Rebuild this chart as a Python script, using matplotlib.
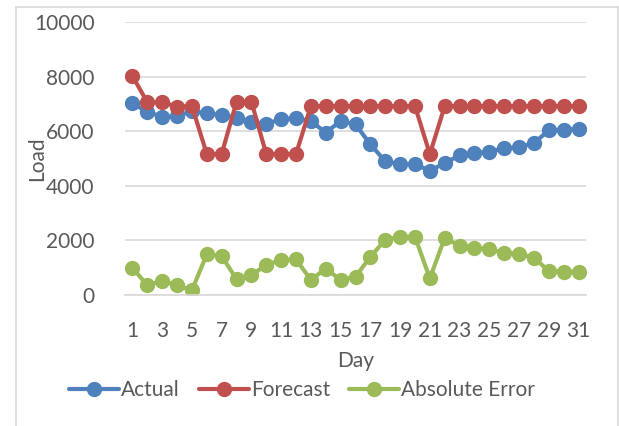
import matplotlib.pyplot as plt
from matplotlib.lines import Line2D

plt.rcParams['font.family'] = ['Lato', 'DejaVu Sans']

days = list(range(1, 32))
actual = [7020, 6710, 6530, 6550, 6740, 6650, 6590, 6500, 6350, 6265, 6450, 6470,
          6370, 5950, 6370, 6250, 5520, 4900, 4790, 4790, 4550, 4830, 5120, 5190,
          5250, 5370, 5410, 5560, 6040, 6060, 6080]
forecast = [8020, 7060, 7060, 6900, 6920, 5165, 5165, 7080, 7080, 5165, 5165, 5165,
            6920, 6920, 6920, 6920, 6920, 6920, 6920, 6920, 5160, 6920, 6920, 6920,
            6920, 6920, 6920, 6920, 6920, 6920, 6920]
abs_error = [1000, 350, 530, 350, 180, 1485, 1425, 580, 730, 1100, 1285, 1305,
             550, 970, 550, 670, 1400, 2020, 2130, 2130, 610, 2090, 1800, 1730,
             1670, 1550, 1510, 1360, 880, 860, 840]
x_ticks = list(range(1, 32, 2))
y_ticks = [0, 2000, 4000, 6000, 8000, 10000]

W, H = 619, 426
fig = plt.figure(figsize=(W / 100, H / 100), dpi=100)
ax = fig.add_axes([125 / W, 1 - 295 / H, 461 / W, 273 / H])

txt = '#595959'
fs = 15
series = [(actual, '#4f81bd', 'Actual'),
          (forecast, '#c0504d', 'Forecast'),
          (abs_error, '#9bbb59', 'Absolute Error')]
for vals, col, name in series:
    ax.plot(days, vals, color=col, lw=3, marker='o', ms=10, label=name,
            solid_capstyle='round')

ax.set_xlim(0.5, 31.5)
ax.set_ylim(0, 10000)
ax.set_xticks(x_ticks)
ax.set_yticks(y_ticks)
ax.tick_params(axis='both', length=0, labelsize=fs, colors=txt)
ax.tick_params(axis='x', pad=19)
ax.tick_params(axis='y', pad=22)
ax.grid(axis='y', color='#d9d9d9', lw=1.2)
ax.set_axisbelow(True)
for s in ['top', 'right', 'left']:
    ax.spines[s].set_visible(False)
ax.spines['bottom'].set_color('#d9d9d9')
ax.spines['bottom'].set_linewidth(1.2)

ax.set_xlabel('Day', fontsize=fs, color=txt, va='center')
ax.set_ylabel('Load', fontsize=fs, color=txt, va='center')
ax.xaxis.set_label_coords(0.5, (295 - 361) / 273)
ax.yaxis.set_label_coords((37 - 125) / 461, 0.5)

fig.legend(loc='center', bbox_to_anchor=(302 / W, 1 - 390 / H), ncol=3,
           frameon=False, fontsize=fs, handlelength=2.4, columnspacing=0.9,
           handletextpad=0.1, labelcolor=txt)

# chart border
bc = '#d9d9d9'
fig.add_artist(Line2D([15.5 / W, 15.5 / W], [0, 1 - 7 / H], color=bc, lw=1.2))
fig.add_artist(Line2D([15.5 / W, 617.5 / W], [1 - 7 / H, 1 - 7 / H], color=bc, lw=1.2))
fig.add_artist(Line2D([617.5 / W, 617.5 / W], [0, 1 - 7 / H], color=bc, lw=1.2))

fig.savefig('out.png', dpi=100)
